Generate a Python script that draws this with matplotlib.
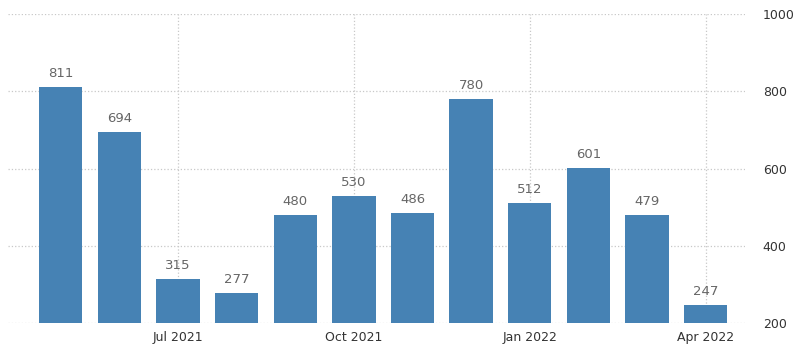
import matplotlib.pyplot as plt

months = ["May 2021", "Jun 2021", "Jul 2021", "Aug 2021", "Sep 2021", "Oct 2021",
          "Nov 2021", "Dec 2021", "Jan 2022", "Feb 2022", "Mar 2022", "Apr 2022"]
values = [811, 694, 315, 277, 480, 530, 486, 780, 512, 601, 479, 247]
shown_ticks = ["Jul 2021", "Oct 2021", "Jan 2022", "Apr 2022"]

fig = plt.figure(figsize=(8, 3.52), dpi=100)
ax = fig.add_axes([0.01, 0.082, 0.921, 0.878])

x = list(range(len(months)))
bars = ax.bar(x, values, width=0.74, color="#4682b4", bottom=0, zorder=2)
for xi, v in zip(x, values):
    ax.text(xi, v + 18, str(v), ha="center", va="bottom", fontsize=9.5, color="#666666")

ax.set_ylim(200, 1000)
ax.set_xlim(-0.9, 11.67)
ax.set_yticks([200, 400, 600, 800, 1000])
ax.yaxis.tick_right()
tick_pos = [months.index(m) for m in shown_ticks]
ax.set_xticks(tick_pos)
ax.set_xticklabels(shown_ticks)
ax.tick_params(axis="both", length=0, labelsize=9, colors="#333333")
ax.tick_params(axis="y", pad=13)
ax.tick_params(axis="x", pad=6)

ax.grid(True, color="#c8c8c8", linestyle=":", linewidth=0.9, zorder=0)
for s in ax.spines.values():
    s.set_visible(False)

fig.savefig("out.png", dpi=100)
